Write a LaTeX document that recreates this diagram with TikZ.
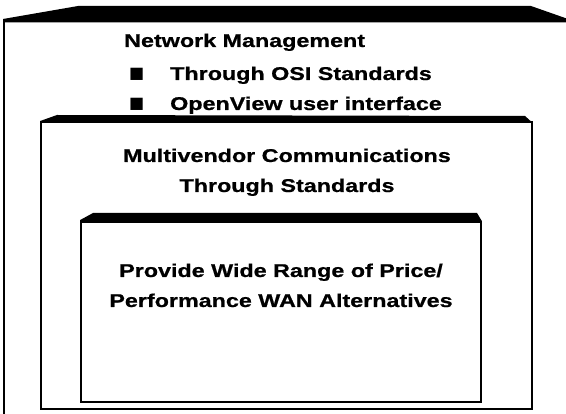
\documentclass[tikz,border=0pt]{standalone}
\usepackage{fontspec}
\newfontfamily\slidefont[FakeStretch=1.26,BoldFeatures={FakeBold=0.8}]{Liberation Sans}
\newfontfamily\bulletfont{DejaVu Sans}
\usetikzlibrary{positioning}

\begin{document}
\begin{tikzpicture}[
  x=1pt,y=-1pt,
  slidetext/.style={font=\slidefont\bfseries\fontsize{18.5}{22}\selectfont,inner sep=0pt},
  bulletmark/.style={font=\bulletfont\fontsize{16}{18}\selectfont,inner sep=0pt},
  boxline/.style={draw=black,line width=1.5pt},
  slab/.style={fill=black}
]
  \useasboundingbox (0,0) rectangle (566,414);
  \clip (0,0) rectangle (566,414);
  % Outer box
  \draw[boxline] (4,20) -- (4,420);
  \fill[slab] (3,22.5) -- (3,19) -- (78,6) -- (531,6) -- (578,22.5) -- cycle;
  % Middle box
  \draw[boxline] (41,122) rectangle (532,409);
  \fill[slab] (40.2,123) -- (40.2,121) -- (57,115) -- (525,116) -- (532.8,123) -- cycle;
  % Inner box
  \draw[boxline] (81,222) rectangle (481,402);
  \fill[slab] (80.2,223) -- (80.2,220) -- (93,213) -- (477,213) -- (481.8,221) -- (481.8,223) -- cycle;
  % Outer texts
  \node[slidetext,anchor=base west] (netmgmt) at (124,47) {Network Management};
  \node[bulletmark,anchor=base west] (bull1) at (129,79) {■};
  \node[slidetext,anchor=base west] (osi) at (170,80) {Through OSI Standards};
  \node[bulletmark,anchor=base west] (bull2) at (129,109) {■};
  \node[slidetext,anchor=base west] (openview) at (170,110) {OpenView user interface};
  % Middle texts
  \node[slidetext,anchor=base] (multi) at (287,162) {Multivendor Communications};
  \node[slidetext,anchor=base] (stds) at (287,192) {Through Standards};
  % Inner texts
  \node[slidetext,anchor=base] (price) at (281,277) {Provide Wide Range of Price/};
  \node[slidetext,anchor=base] (wan) at (281,307) {Performance WAN Alternatives};
\end{tikzpicture}
\end{document}
